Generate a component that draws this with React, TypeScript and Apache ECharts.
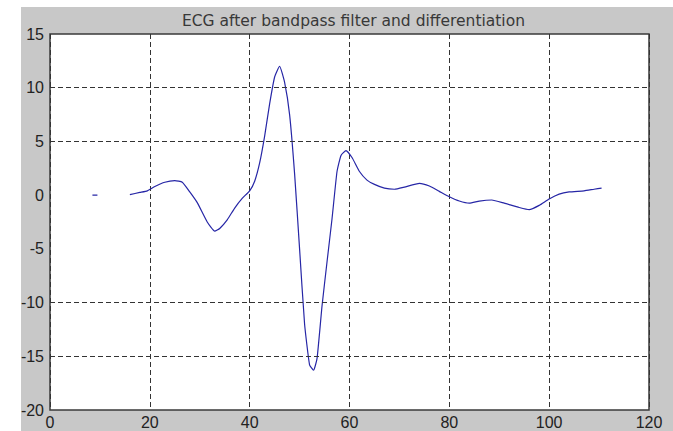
import React, { useEffect, useRef } from "react";
import * as echarts from "echarts";

const titleText = "ECG after bandpass filter and differentiation";

const xTicks = { min: 0, max: 120, interval: 20 };
const yTicks = { min: -20, max: 15, interval: 5 };
const yGridValues = [10, 5, -10, -15];

// first short fragment
const seg1X = [8.5, 9.5];
const seg1Y = [0, 0];

// main trace
const seg2X = [16, 18, 19.5, 21, 23, 25, 26.5, 28, 29.5, 31.5, 33, 34, 35.5, 37, 38.5, 40, 41, 42, 43, 44, 45, 46, 47, 48, 49, 50, 51, 52, 52.8, 53.5, 54.5, 55.5, 56.5, 57.5, 58.3, 59.3, 60.5, 62, 63.5, 65, 67, 69, 71, 74, 76, 78, 80, 82, 84, 86, 88.5, 91, 94, 96, 98, 100, 102, 104, 107, 109, 110.5];
const seg2Y = [0.05, 0.25, 0.4, 0.8, 1.2, 1.35, 1.2, 0.3, -0.7, -2.5, -3.35, -3.1, -2.3, -1.2, -0.3, 0.4, 1.3, 3.0, 5.5, 8.5, 11.0, 12.0, 10.5, 7.5, 2.0, -5.0, -12.0, -15.8, -16.3, -15.2, -10.3, -6.2, -2.2, 2.2, 3.7, 4.15, 3.5, 2.2, 1.4, 1.0, 0.65, 0.55, 0.75, 1.1, 0.85, 0.35, -0.15, -0.55, -0.75, -0.55, -0.45, -0.75, -1.15, -1.35, -0.95, -0.35, 0.1, 0.3, 0.4, 0.55, 0.65];

const FONT = "Liberation Sans";
const LINE_COLOR = "#2626a6";
const GRID_COLOR = "#333333";

export default function App() {
  const ref = useRef<HTMLDivElement>(null);
  useEffect(() => {
    document.body.style.margin = "0";
    if (!ref.current) return;
    const chart = echarts.init(ref.current, null, { renderer: "svg" });
    const seg1 = seg1X.map((x, i) => [x, seg1Y[i]]);
    const seg2 = seg2X.map((x, i) => [x, seg2Y[i]]);
    chart.setOption({
      animation: false,
      backgroundColor: "#ffffff",
      graphic: [
        {
          type: "rect",
          z: -10,
          shape: { x: 21, y: 7, width: 652, height: 424 },
          style: { fill: "#c8c8c8" },
          silent: true,
        },
      ],
      title: {
        text: titleText,
        left: 177,
        top: 8,
        textStyle: { fontFamily: "DejaVu Sans", fontSize: 15.5, fontWeight: "normal", color: "#383838" },
      },
      grid: {
        left: 50,
        right: 24,
        top: 34,
        bottom: 21,
        show: true,
        backgroundColor: "#ffffff",
        borderColor: "#3a3a3a",
        borderWidth: 1.5,
      },
      xAxis: {
        type: "value",
        min: xTicks.min,
        max: xTicks.max,
        interval: xTicks.interval,
        axisLine: { show: false },
        axisTick: { show: false },
        axisLabel: { fontFamily: FONT, fontSize: 16, color: "#222", margin: 4 },
        splitLine: { show: true, lineStyle: { type: [5, 3], color: GRID_COLOR, width: 1 } },
      },
      yAxis: {
        type: "value",
        min: yTicks.min,
        max: yTicks.max,
        interval: yTicks.interval,
        axisLine: { show: false },
        axisTick: { show: false },
        axisLabel: { fontFamily: FONT, fontSize: 16, color: "#222", margin: 6 },
        splitLine: { show: false },
      },
      series: [
        {
          type: "line",
          data: seg1,
          showSymbol: false,
          symbol: "none",
          lineStyle: { color: LINE_COLOR, width: 1.2 },
          markLine: {
            silent: true,
            symbol: "none",
            label: { show: false },
            lineStyle: { type: [5, 3], color: GRID_COLOR, width: 1 },
            data: yGridValues.map((v) => ({ yAxis: v })),
          },
          z: 3,
        },
        {
          type: "line",
          data: seg2,
          showSymbol: false,
          symbol: "none",
          smooth: 0.15,
          lineStyle: { color: LINE_COLOR, width: 1.2 },
          z: 3,
        },
      ],
    });
    return () => chart.dispose();
  }, []);
  return (
    <div
      ref={ref}
      style={{ position: "fixed", left: 0, top: 0, width: 673, height: 431 }}
    />
  );
}
